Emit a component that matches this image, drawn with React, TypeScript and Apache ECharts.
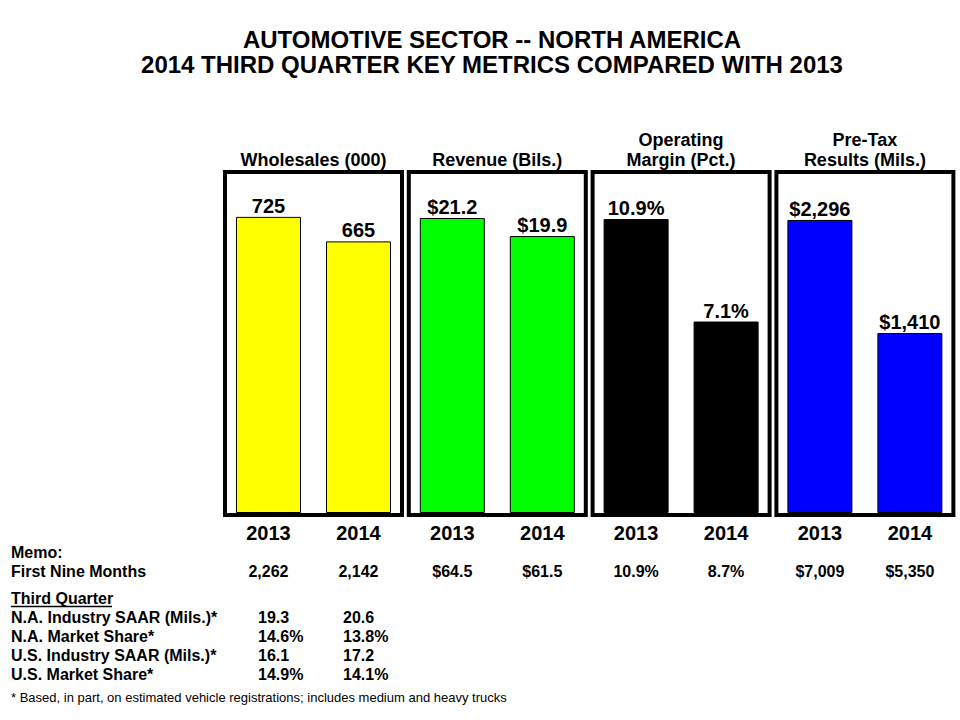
import React, { useEffect, useRef } from "react";
import * as echarts from "echarts";

const years = ["2013", "2014"];
const titleLines = ["AUTOMOTIVE SECTOR -- NORTH AMERICA", "2014 THIRD QUARTER KEY METRICS COMPARED WITH 2013"];
const panelTitles = ["Wholesales (000)", "Revenue (Bils.)", "Operating\nMargin (Pct.)", "Pre-Tax\nResults (Mils.)"];
const wholesales = [725, 665];
const revenue = [21.2, 19.9];
const operatingMargin = [10.9, 7.1];
const preTaxResults = [2296, 1410];
const panelColors = ["#FFFF00", "#00FF00", "#000000", "#0000FF"];
const axisMax = [830, 24.36, 12.57, 2656];

const nineMonthsWholesales = [2262, 2142];
const nineMonthsRevenue = [64.5, 61.5];
const nineMonthsMargin = [10.9, 8.7];
const nineMonthsPreTax = [7009, 5350];

const thirdQuarterLabels = [
  "N.A. Industry SAAR (Mils.)*",
  "N.A. Market Share*",
  "U.S. Industry SAAR (Mils.)*",
  "U.S. Market Share*",
];
const thirdQuarter2013 = ["19.3", "14.6%", "16.1", "14.9%"];
const thirdQuarter2014 = ["20.6", "13.8%", "17.2", "14.1%"];

const FONT = '"Liberation Sans", Arial, sans-serif';

const fmtPlain = (v: number) => v.toLocaleString("en-US");
const fmtDollar1 = (v: number) => "$" + v.toFixed(1);
const fmtPct = (v: number) => v.toFixed(1) + "%";
const fmtDollar = (v: number) => "$" + v.toLocaleString("en-US");
const formatters = [fmtPlain, fmtDollar1, fmtPct, fmtDollar];
const panelData = [wholesales, revenue, operatingMargin, preTaxResults];
const nineMonths = [nineMonthsWholesales, nineMonthsRevenue, nineMonthsMargin, nineMonthsPreTax];

export default function App() {
  const ref = useRef<HTMLDivElement>(null);

  useEffect(() => {
    if (!ref.current) return;
    const chart = echarts.init(ref.current, undefined, { renderer: "svg" });

    const centers = [313.5, 497.3, 681.1, 864.9];
    const gridW = 180;
    const gridTop = 174;
    const gridH = 339;

    const grids = centers.map((c) => ({
      left: c - gridW / 2,
      top: gridTop,
      width: gridW,
      height: gridH,
      containLabel: false,
    }));

    const xAxes = centers.map((_, i) => ({
      type: "category" as const,
      gridIndex: i,
      data: years,
      axisLine: { show: false },
      axisTick: { show: false },
      axisLabel: {
        color: "#000",
        fontSize: 20,
        fontWeight: "bold" as const,
        fontFamily: FONT,
        margin: 10,
      },
    }));

    const yAxes = centers.map((_, i) => ({
      type: "value" as const,
      gridIndex: i,
      min: 0,
      max: axisMax[i],
      show: false,
      splitLine: { show: false },
    }));

    const series = panelData.map((d, i) => ({
      type: "bar" as const,
      xAxisIndex: i,
      yAxisIndex: i,
      barWidth: 65,
      data: d,
      itemStyle: { color: panelColors[i], borderColor: "#000", borderWidth: 1 },
      label: {
        show: true,
        position: "top" as const,
        distance: 1,
        color: "#000",
        fontSize: 20,
        fontWeight: "bold" as const,
        fontFamily: FONT,
        formatter: (p: any) => formatters[i](p.value),
      },
    }));

    const graphic: any[] = [];

    // Title (two separate lines)
    titleLines.forEach((t, k) => {
      graphic.push({
        type: "text",
        style: {
          text: t,
          x: 492,
          y: 39.5 + k * 24.5,
          fill: "#000",
          fontSize: 24,
          fontWeight: "bold",
          fontFamily: FONT,
          lineHeight: 24,
          textAlign: "center",
          textVerticalAlign: "middle",
        },
      });
    });

    // Boxes and panel headers
    centers.forEach((c, i) => {
      graphic.push({
        type: "rect",
        z: 100,
        shape: { x: c - 88.5, y: 172, width: 177, height: 343 },
        style: { fill: "none", stroke: "#000", lineWidth: 4 },
      });
      graphic.push({
        type: "text",
        style: {
          text: panelTitles[i],
          x: c,
          y: 170,
          fill: "#000",
          fontSize: 18,
          fontWeight: "bold",
          fontFamily: FONT,
          lineHeight: 20,
          textAlign: "center",
          textVerticalAlign: "bottom",
        },
      });
      // First nine months values under each bar
      nineMonths[i].forEach((v, j) => {
        graphic.push({
          type: "text",
          style: {
            text: formatters[i](v),
            x: c - gridW / 4 + j * (gridW / 2),
            y: 571,
            fill: "#000",
            fontSize: 16,
            fontWeight: "bold",
            fontFamily: FONT,
            textAlign: "center",
            textVerticalAlign: "middle",
          },
        });
      });
    });

    const leftText = (text: string, x: number, y: number, size = 16, weight = "bold") => ({
      type: "text",
      style: {
        text,
        x,
        y,
        fill: "#000",
        fontSize: size,
        fontWeight: weight,
        fontFamily: FONT,
        textAlign: "left",
        textVerticalAlign: "middle",
      },
    });

    graphic.push(leftText("Memo:", 11, 552));
    graphic.push(leftText("First Nine Months", 11, 571));
    graphic.push(leftText("Third Quarter", 11, 598));
    graphic.push({
      type: "line",
      shape: { x1: 11, y1: 606.5, x2: 112, y2: 606.5 },
      style: { stroke: "#000", lineWidth: 1.5 },
    });
    const rowY = [617, 636, 655.5, 674];
    thirdQuarterLabels.forEach((lab, k) => {
      graphic.push(leftText(lab, 11, rowY[k]));
      graphic.push(leftText(thirdQuarter2013[k], 258, rowY[k]));
      graphic.push(leftText(thirdQuarter2014[k], 343, rowY[k]));
    });
    graphic.push(
      leftText(
        "* Based, in part, on estimated vehicle registrations; includes medium and heavy trucks",
        11,
        697.5,
        13,
        "normal"
      )
    );

    chart.setOption({
      animation: false,
      backgroundColor: "#fff",
      grid: grids,
      xAxis: xAxes,
      yAxis: yAxes,
      series,
      graphic,
    });

    return () => chart.dispose();
  }, []);

  return (
    <div
      ref={ref}
      style={{ position: "fixed", left: 0, top: 0, width: 960, height: 720, background: "#fff" }}
    />
  );
}
